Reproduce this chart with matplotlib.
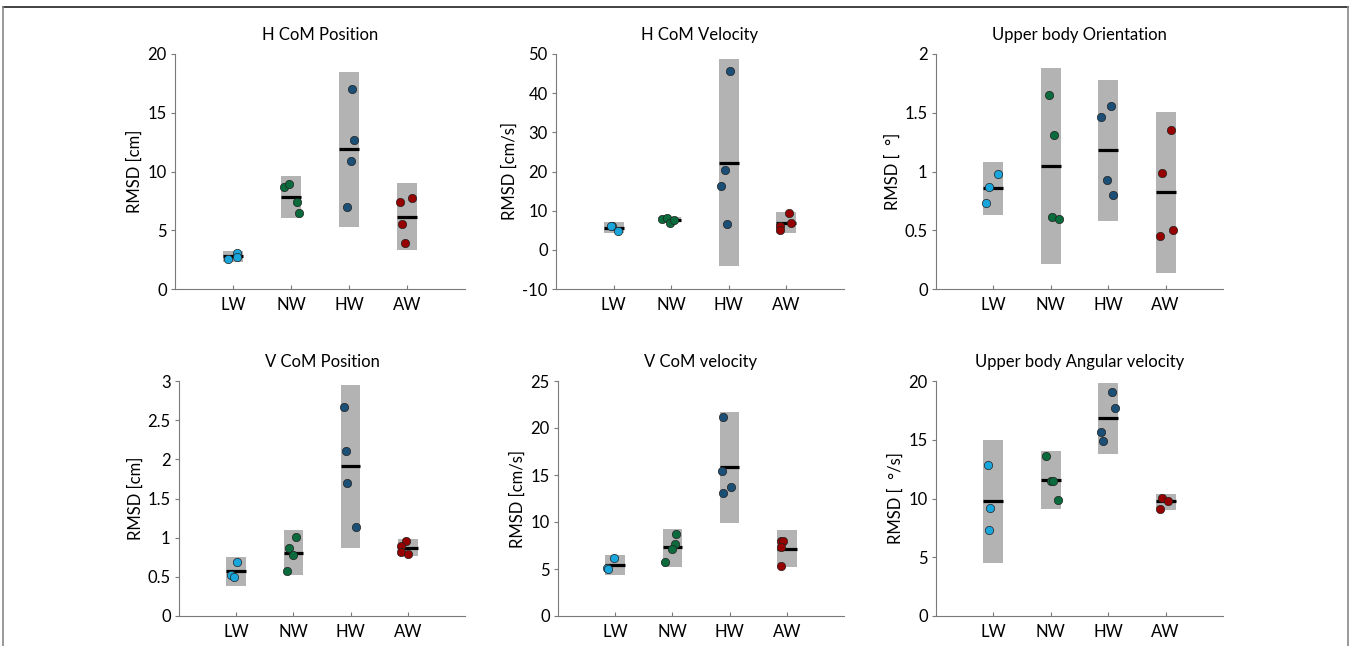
import numpy as np
import matplotlib
matplotlib.use('Agg')
import matplotlib.pyplot as plt
from matplotlib.ticker import FormatStrFormatter
from matplotlib.lines import Line2D

plt.rcParams['font.family'] = ['Lato', 'DejaVu Sans']

groups = ['LW', 'NW', 'HW', 'AW']
colors = ['#18a6dc', '#0b6b3c', '#1b4f76', '#960000']
box_color = '#b3b3b3'
axis_color = '#7a7a7a'

titles = ['H CoM Position', 'H CoM Velocity', 'Upper body Orientation',
          'V CoM Position', 'V CoM velocity', 'Upper body Angular velocity']
ylabels = ['RMSD [cm]', 'RMSD [cm/s]', 'RMSD [  °]',
           'RMSD [cm]', 'RMSD [cm/s]', 'RMSD [  °/s]']
ylims = [(0, 20), (-10, 50), (0, 2), (0, 3), (0, 25), (0, 20)]
ytick_steps = [5, 10, 0.5, 0.5, 5, 5]

# per panel: values of the subjects for each group
h_pos_vals = [[2.55, 3.09, 2.75], [8.68, 8.91, 7.40, 6.50],
              [17.02, 12.68, 10.92, 6.98], [7.38, 7.74, 5.56, 3.89]]
h_vel_vals = [[6.17, 6.0, 4.81], [7.87, 8.04, 6.77, 7.70],
              [45.57, 20.47, 16.30, 6.51], [9.32, 6.94, 6.17, 5.06]]
ub_ori_vals = [[0.735, 0.868, 0.976], [1.654, 1.313, 0.610, 0.599],
               [1.461, 1.555, 0.930, 0.797], [1.356, 0.987, 0.451, 0.499]]
v_pos_vals = [[0.687, 0.526, 0.496], [1.006, 0.870, 0.781, 0.569],
              [2.669, 2.109, 1.697, 1.141], [0.955, 0.891, 0.823, 0.789]]
v_vel_vals = [[6.18, 5.08, 5.05], [8.76, 7.66, 7.10, 5.72],
              [21.19, 15.40, 13.70, 13.07], [8.02, 7.98, 7.31, 5.30]]
ub_angvel_vals = [[12.88, 9.15, 7.34], [13.59, 11.50, 11.50, 9.83],
                  [19.07, 17.71, 15.68, 14.89], [10.06, 9.80, 9.10]]

# horizontal jitter of the points
h_pos_jit = [[-0.092, 0.064, 0.069], [-0.127, -0.035, 0.110, 0.139],
             [0.058, 0.087, 0.029, -0.040], [-0.121, 0.087, -0.081, -0.040]]
h_vel_jit = [[-0.023, -0.04, 0.069], [-0.156, -0.075, -0.029, 0.040],
             [0.023, -0.064, -0.139, -0.023], [0.052, 0.081, -0.116, -0.116]]
ub_ori_jit = [[-0.121, -0.069, 0.081], [-0.023, 0.058, 0.017, 0.139],
              [-0.121, 0.046, -0.023, 0.081], [0.092, -0.069, -0.098, 0.121]]
v_pos_jit = [[0.012, -0.098, -0.035], [0.040, -0.081, -0.006, -0.104],
             [-0.116, -0.081, -0.064, 0.087], [-0.029, -0.116, -0.127, 0.012]]
v_vel_jit = [[-0.029, -0.145, -0.133], [0.064, 0.040, 0.0, -0.127],
             [-0.121, -0.133, 0.029, -0.110], [-0.110, -0.058, -0.104, -0.110]]
ub_angvel_jit = [[-0.092, -0.052, -0.075], [-0.092, 0.0, 0.046, 0.121],
                 [0.058, 0.121, -0.133, -0.087], [-0.063, 0.040, -0.098]]

# mean and shaded range per group
h_pos_mean = [2.84, 7.86, 11.94, 6.13]
h_pos_lo = [2.27, 6.01, 5.25, 3.29]
h_pos_hi = [3.26, 9.65, 18.50, 9.05]
h_vel_mean = [5.66, 7.62, 22.17, 6.94]
h_vel_lo = [4.21, 7.02, -4.21, 4.21]
h_vel_hi = [7.02, 8.47, 48.81, 9.74]
ub_ori_mean = [0.860, 1.050, 1.186, 0.826]
ub_ori_lo = [0.633, 0.210, 0.582, 0.133]
ub_ori_hi = [1.084, 1.884, 1.782, 1.509]
v_pos_mean = [0.573, 0.802, 1.909, 0.870]
v_pos_lo = [0.378, 0.518, 0.874, 0.760]
v_pos_hi = [0.755, 1.099, 2.945, 0.984]
v_vel_mean = [5.40, 7.34, 15.89, 7.10]
v_vel_lo = [4.31, 5.26, 9.92, 5.16]
v_vel_hi = [6.50, 9.25, 21.75, 9.15]
ub_angvel_mean = [9.77, 11.61, 16.81, 9.77]
ub_angvel_lo = [4.55, 9.12, 13.79, 9.04]
ub_angvel_hi = [14.94, 14.01, 19.86, 10.37]

panels = [
    (h_pos_vals, h_pos_jit, h_pos_mean, h_pos_lo, h_pos_hi),
    (h_vel_vals, h_vel_jit, h_vel_mean, h_vel_lo, h_vel_hi),
    (ub_ori_vals, ub_ori_jit, ub_ori_mean, ub_ori_lo, ub_ori_hi),
    (v_pos_vals, v_pos_jit, v_pos_mean, v_pos_lo, v_pos_hi),
    (v_vel_vals, v_vel_jit, v_vel_mean, v_vel_lo, v_vel_hi),
    (ub_angvel_vals, ub_angvel_jit, ub_angvel_mean, ub_angvel_lo, ub_angvel_hi),
]

W, H = 1351, 646
fig = plt.figure(figsize=(W / 100, H / 100), dpi=100)

# axes rectangles in pixels: left, top, right, bottom
rects = [(175, 54, 465, 289), (556, 54, 844, 289), (936, 54, 1223, 289),
         (179, 381, 465, 616), (558, 381, 844, 616), (936, 381, 1223, 616)]

hw = 0.173
x = np.arange(1, 5)
for i, (vals, jit, mean, lo, hi) in enumerate(panels):
    l, t, r, b = rects[i]
    ax = fig.add_axes([l / W, 1 - b / H, (r - l) / W, (b - t) / H])
    for k in range(4):
        ax.bar(x[k], hi[k] - lo[k], bottom=lo[k], width=2 * hw,
               color=box_color, edgecolor='none', zorder=1)
        ax.plot([x[k] - hw, x[k] + hw], [mean[k], mean[k]], color='black',
                lw=2.3, solid_capstyle='butt', zorder=2)
        ax.scatter(x[k] + np.array(jit[k]), vals[k], s=36, color=colors[k],
                   edgecolor='#222222', linewidth=0.5, zorder=3)
    ax.set_xlim(0, 5)
    ax.set_ylim(*ylims[i])
    ax.set_xticks(x)
    ax.set_xticklabels(groups)
    step = ytick_steps[i]
    ax.set_yticks(np.arange(ylims[i][0], ylims[i][1] + step / 2, step))
    ax.yaxis.set_major_formatter(FormatStrFormatter('%g'))
    ax.set_title(titles[i], fontsize=12, pad=10)
    ax.set_ylabel(ylabels[i], fontsize=12, labelpad=3)
    for s in ['top', 'right']:
        ax.spines[s].set_visible(False)
    for s in ['left', 'bottom']:
        ax.spines[s].set_color(axis_color)
        ax.spines[s].set_linewidth(0.8)
    ax.tick_params(axis='y', direction='out', length=3, color=axis_color,
                   labelsize=12, pad=3)
    ax.tick_params(axis='x', direction='in', length=3, color=axis_color,
                   labelsize=12, pad=6)

# thin frame around the figure
fig.add_artist(Line2D([3 / W, 1348 / W], [1 - 7 / H, 1 - 7 / H],
                      color='#222222', lw=1.2))
fig.add_artist(Line2D([3 / W, 3 / W], [0, 1 - 7 / H], color='#888888', lw=1.2))
fig.add_artist(Line2D([1348 / W, 1348 / W], [0, 1 - 7 / H], color='#888888', lw=1.2))

fig.savefig('out.png', dpi=100)
